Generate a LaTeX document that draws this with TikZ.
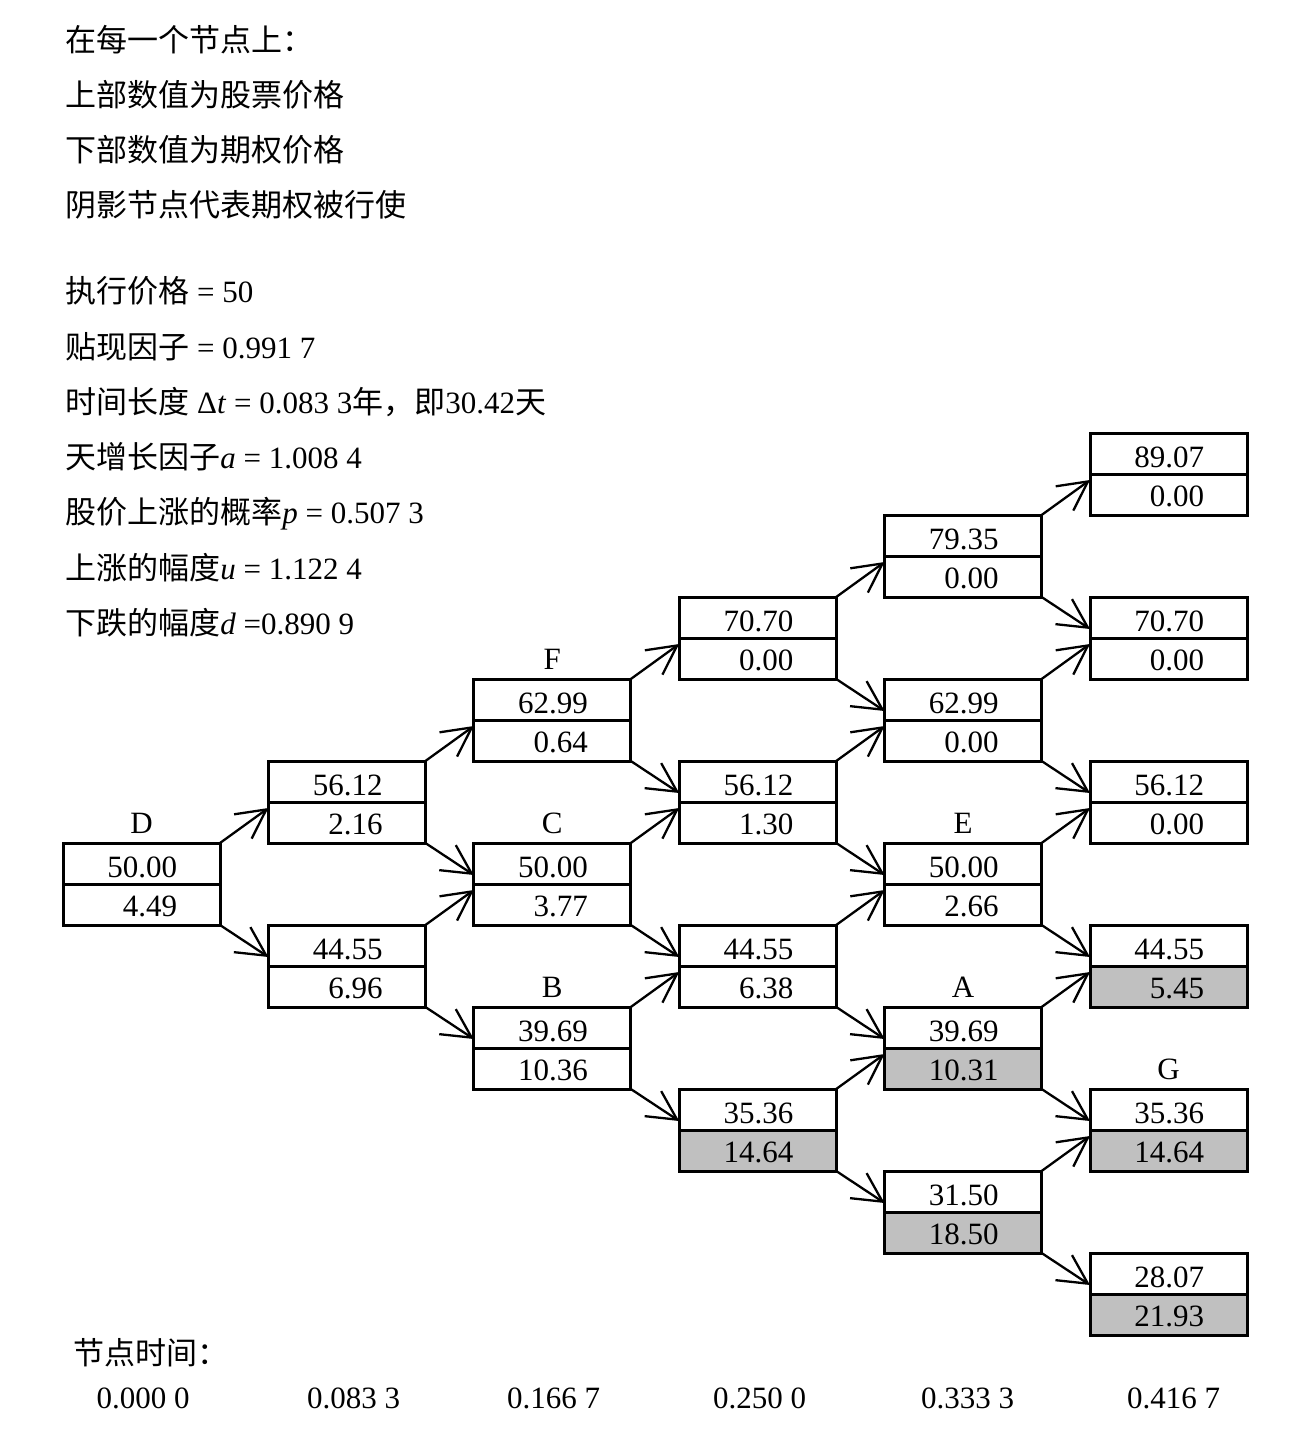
\documentclass[tikz,border=0pt]{standalone}
\usepackage{fontspec}
\setmainfont{Liberation Serif}
\newfontfamily\cjk{Noto Sans CJK SC}
\usetikzlibrary{arrows.meta,calc}
\definecolor{shadegray}{RGB}{192,192,192}
\tikzset{
  box/.style={anchor=north west, minimum width=78.5pt, minimum height=41pt, inner sep=0pt, outer sep=0pt},
  boxline/.style={line width=1.5pt, line join=miter},
  val/.style={anchor=base east, inner sep=0pt},
  lab/.style={anchor=base, inner sep=0pt},
  txt/.style={anchor=base west, inner sep=0pt},
  tlab/.style={anchor=base, inner sep=0pt},
  arr/.style={line width=1.15pt, -{Straight Barb[length=14.5pt,width=15pt,line width=1.15pt]}},
}
\newcommand\treenode[6]{%
  \pgfmathsetmacro\tnX{63+205.4*#2}%
  \pgfmathsetmacro\tnY{843-82*(2*#3-#2)}%
  \path (\tnX,\tnY) node[box] (#1) {};
  \fill[#6] (#1.west) rectangle (#1.south east);
  \draw[boxline] (#1.north west) rectangle (#1.south east);
  \draw[boxline] (#1.west) -- (#1.east);
  \node[val] (#1u) at ($(#1.north west)+(114.5,34)$) {#4};
  \node[val] (#1l) at ($(#1.north west)+(114.5,73)$) {#5};
}
\begin{document}
\begin{tikzpicture}[x=0.5pt,y=-0.5pt,font=\fontsize{15.5}{18}\selectfont]
\fill[white] (0,0) rectangle (1309,1430);
\useasboundingbox (0,0) rectangle (1309,1430);

% legend text
\node[txt] (t1) at (65,51) {\cjk 在每一个节点上：};
\node[txt] (t2) at (65,106) {\cjk 上部数值为股票价格};
\node[txt] (t3) at (65,161) {\cjk 下部数值为期权价格};
\node[txt] (t4) at (65,216) {\cjk 阴影节点代表期权被行使};
\node[txt] (t5) at (65,302) {{\cjk 执行价格} = 50};
\node[txt] (t6) at (65,358) {{\cjk 贴现因子} = 0.991 7};
\node[txt] (t7) at (65,413) {{\cjk 时间长度} Δ\textit{t} = 0.083 3{\cjk 年，即}30.42{\cjk 天}};
\node[txt] (t8) at (65,468) {{\cjk 天增长因子}\textit{a} = 1.008 4};
\node[txt] (t9) at (65,523) {{\cjk 股价上涨的概率}\textit{p} = 0.507 3};
\node[txt] (t10) at (65,579) {{\cjk 上涨的幅度}\textit{u} = 1.122 4};
\node[txt] (t11) at (65,634) {{\cjk 下跌的幅度}\textit{d} =0.890 9};

% tree nodes
\treenode{n00}{0}{0}{50.00}{4.49}{white}
\treenode{n11}{1}{1}{56.12}{2.16}{white}
\treenode{n10}{1}{0}{44.55}{6.96}{white}
\treenode{n22}{2}{2}{62.99}{0.64}{white}
\treenode{n21}{2}{1}{50.00}{3.77}{white}
\treenode{n20}{2}{0}{39.69}{10.36}{white}
\treenode{n33}{3}{3}{70.70}{0.00}{white}
\treenode{n32}{3}{2}{56.12}{1.30}{white}
\treenode{n31}{3}{1}{44.55}{6.38}{white}
\treenode{n30}{3}{0}{35.36}{14.64}{shadegray}
\treenode{n44}{4}{4}{79.35}{0.00}{white}
\treenode{n43}{4}{3}{62.99}{0.00}{white}
\treenode{n42}{4}{2}{50.00}{2.66}{white}
\treenode{n41}{4}{1}{39.69}{10.31}{shadegray}
\treenode{n40}{4}{0}{31.50}{18.50}{shadegray}
\treenode{n55}{5}{5}{89.07}{0.00}{white}
\treenode{n54}{5}{4}{70.70}{0.00}{white}
\treenode{n53}{5}{3}{56.12}{0.00}{white}
\treenode{n52}{5}{2}{44.55}{5.45}{shadegray}
\treenode{n51}{5}{1}{35.36}{14.64}{shadegray}
\treenode{n50}{5}{0}{28.07}{21.93}{shadegray}

% node letters
\node[lab] (labD) at ($(n00.north)+(0,-10)$) {D};
\node[lab] (labF) at ($(n22.north)+(0,-10)$) {F};
\node[lab] (labC) at ($(n21.north)+(0,-10)$) {C};
\node[lab] (labB) at ($(n20.north)+(0,-10)$) {B};
\node[lab] (labE) at ($(n42.north)+(0,-10)$) {E};
\node[lab] (labA) at ($(n41.north)+(0,-10)$) {A};
\node[lab] (labG) at ($(n51.north)+(0,-10)$) {G};

% connectors
\foreach \j in {0,...,4} {
  \pgfmathtruncatemacro\jn{\j+1}
  \foreach \k in {0,...,\j} {
    \pgfmathtruncatemacro\kn{\k+1}
    \draw[arr] (n\j\k.north east) -- ($(n\jn\kn.west)+(0,6)$);
    \draw[arr] (n\j\k.south east) -- ($(n\jn\k.west)+(0,-9)$);
  }
}

% time axis
\node[txt] (tt) at (73,1364) {\cjk 节点时间：};
\node[tlab] (tm0) at (143,1408) {0.000 0};
\node[tlab] (tm1) at (353.5,1408) {0.083 3};
\node[tlab] (tm2) at (553.5,1408) {0.166 7};
\node[tlab] (tm3) at (759.5,1408) {0.250 0};
\node[tlab] (tm4) at (967.5,1408) {0.333 3};
\node[tlab] (tm5) at (1173.5,1408) {0.416 7};
\end{tikzpicture}
\end{document}
